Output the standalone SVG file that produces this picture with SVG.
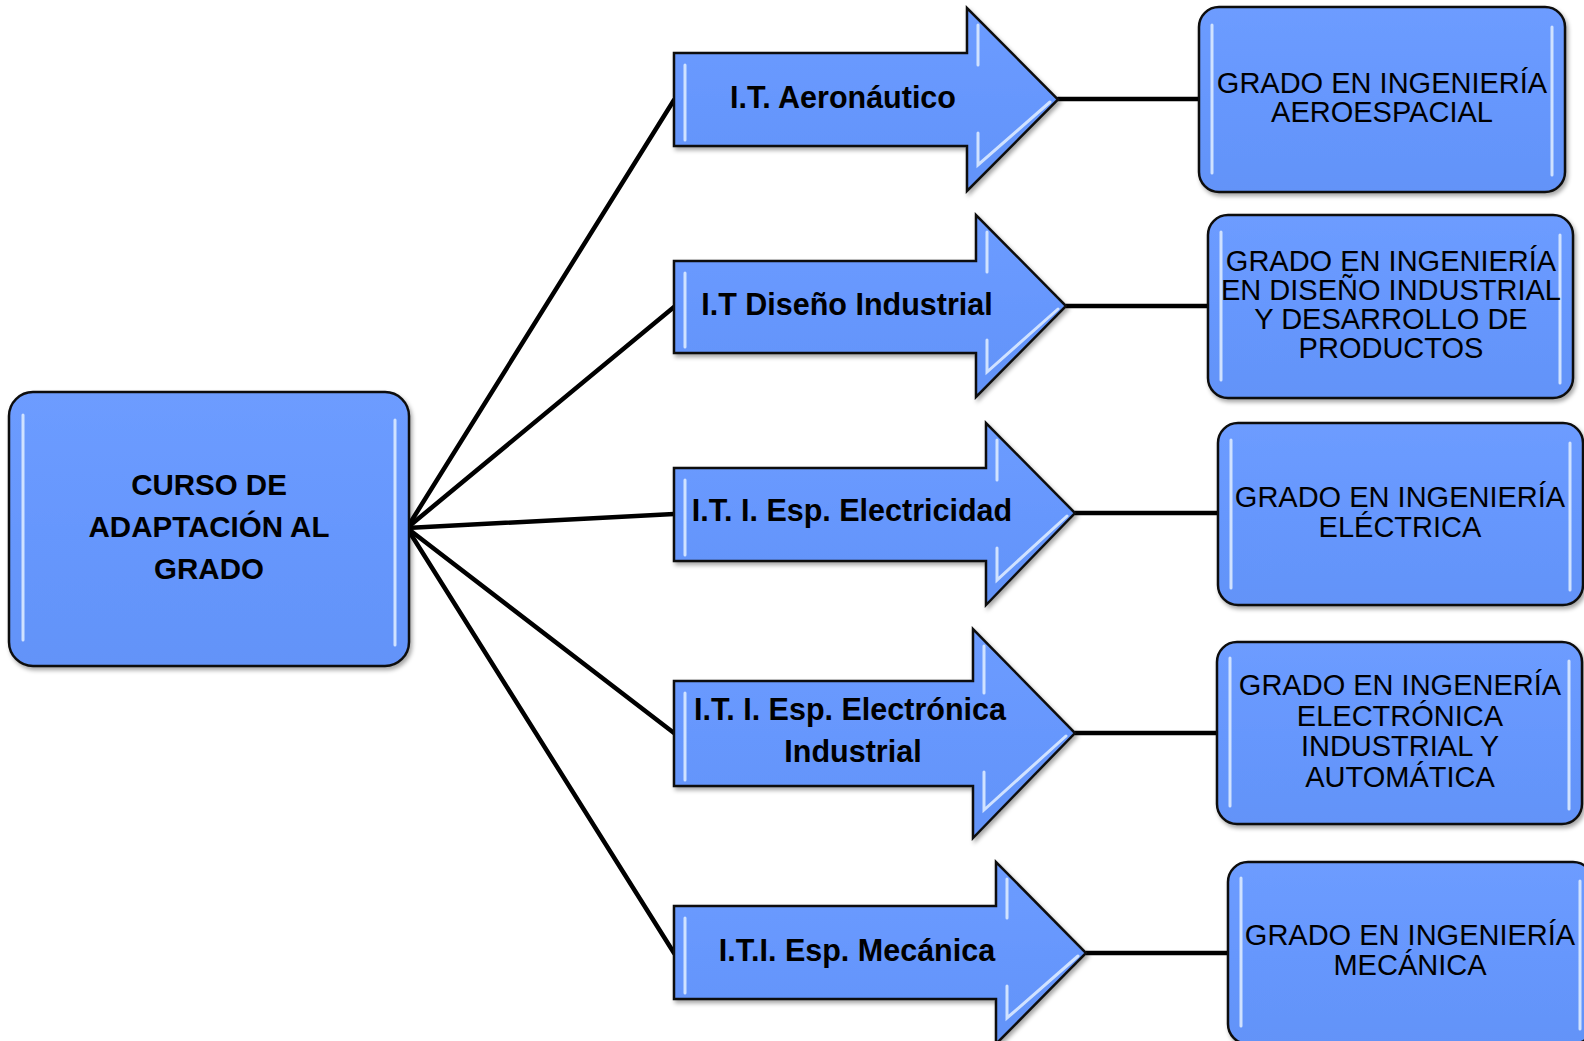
<svg xmlns="http://www.w3.org/2000/svg" width="1584" height="1041" viewBox="0 0 1584 1041">
<defs>
<linearGradient id="fillG" x1="0" y1="0" x2="0" y2="1">
<stop offset="0" stop-color="#6d9cff"/>
<stop offset="0.5" stop-color="#6697fd"/>
<stop offset="1" stop-color="#6393f8"/>
</linearGradient>
<filter id="sh" x="-5%" y="-5%" width="112%" height="115%">
<feDropShadow dx="2" dy="3" stdDeviation="2" flood-color="#000" flood-opacity="0.35"/>
</filter>
</defs>
<style>
.shape{fill:url(#fillG);stroke:#111;stroke-width:2.5;filter:url(#sh)}
.hl{stroke:#dceaff;stroke-width:3;stroke-linecap:round;fill:none;opacity:0.9}
.conn{stroke:#000;stroke-width:4.5;fill:none;stroke-linecap:round}
.tb{font-family:"Liberation Sans",Arial,sans-serif;font-weight:bold;font-size:29.5px;fill:#000;text-anchor:middle}
.ta{font-family:"Liberation Sans",Arial,sans-serif;font-weight:bold;font-size:30.5px;fill:#000;text-anchor:middle}
.tr{font-family:"Liberation Sans",Arial,sans-serif;font-size:29px;fill:#000;text-anchor:middle}
</style>
<rect width="1584" height="1041" fill="#fff"/>
<g id="connectors">
<line class="conn" x1="407" y1="528" x2="674" y2="100"/>
<line class="conn" x1="407" y1="528" x2="674" y2="307"/>
<line class="conn" x1="407" y1="528" x2="674" y2="514"/>
<line class="conn" x1="407" y1="528" x2="674" y2="733"/>
<line class="conn" x1="407" y1="528" x2="674" y2="953"/>
<line class="conn" x1="1058" y1="99" x2="1199" y2="99"/>
<line class="conn" x1="1066" y1="306" x2="1208" y2="306"/>
<line class="conn" x1="1075" y1="513" x2="1218" y2="513"/>
<line class="conn" x1="1075" y1="733" x2="1217" y2="733"/>
<line class="conn" x1="1086" y1="953" x2="1228" y2="953"/>
</g>
<g id="curso">
<rect class="shape" x="9" y="392" width="400" height="274" rx="24"/>
<path class="hl" d="M23 415V640M395 420V645"/>
<text class="tb" x="209" y="495">CURSO DE</text>
<text class="tb" x="209" y="537">ADAPTACIÓN AL</text>
<text class="tb" x="209" y="579">GRADO</text>
</g>
<g id="arrow1">
<path class="shape" d="M674 53H967V8L1058 99.5L967 191V146H674Z"/>
<path class="hl" d="M685 65V140M978 25V65M978 133V165L1050 102"/>
<text class="ta" x="843" y="108">I.T. Aeronáutico</text>
</g>
<g id="arrow2">
<path class="shape" d="M674 261H976V215L1066 306L976 397V353H674Z"/>
<path class="hl" d="M685 273V347M987 232V272M987 340V372L1058 309"/>
<text class="ta" x="847" y="315">I.T Diseño Industrial</text>
</g>
<g id="arrow3">
<path class="shape" d="M674 468H986V423L1075 513L986 605V561H674Z"/>
<path class="hl" d="M685 480V555M997 440V480M997 548V580L1067 516"/>
<text class="ta" x="852" y="521">I.T. I. Esp. Electricidad</text>
</g>
<g id="arrow4">
<path class="shape" d="M674 681H973V629L1075 733L973 838V786H674Z"/>
<path class="hl" d="M685 693V780M984 646V693M984 772V810L1066 736"/>
<text class="ta" x="850" y="720">I.T. I. Esp. Electrónica</text>
<text class="ta" x="853" y="762">Industrial</text>
</g>
<g id="arrow5">
<path class="shape" d="M674 906H996V862L1086 953L996 1044V999H674Z"/>
<path class="hl" d="M685 918V993M1007 879V918M1007 986V1018L1078 956"/>
<text class="ta" x="857" y="961">I.T.I. Esp. Mecánica</text>
</g>
<g id="grado1">
<rect class="shape" x="1199" y="7" width="366" height="185" rx="20"/>
<path class="hl" d="M1212 25V173M1552 27V175"/>
<text class="tr" x="1382" y="93">GRADO EN INGENIERÍA<tspan x="1382" dy="29">AEROESPACIAL</tspan></text>
</g>
<g id="grado2">
<rect class="shape" x="1208" y="215" width="365" height="183" rx="20"/>
<path class="hl" d="M1221 232V380M1560 235V383"/>
<text class="tr" x="1391" y="271">GRADO EN INGENIERÍA<tspan x="1391" dy="29">EN DISEÑO INDUSTRIAL</tspan><tspan x="1391" dy="29">Y DESARROLLO DE</tspan><tspan x="1391" dy="29">PRODUCTOS</tspan></text>
</g>
<g id="grado3">
<rect class="shape" x="1218" y="423" width="365" height="182" rx="20"/>
<path class="hl" d="M1231 440V588M1570 443V590"/>
<text class="tr" x="1400" y="507">GRADO EN INGENIERÍA<tspan x="1400" dy="30">ELÉCTRICA</tspan></text>
</g>
<g id="grado4">
<rect class="shape" x="1217" y="642" width="365" height="182" rx="20"/>
<path class="hl" d="M1230 658V806M1569 661V809"/>
<text class="tr" x="1400" y="695">GRADO EN INGENERÍA<tspan x="1400" dy="30.5">ELECTRÓNICA</tspan><tspan x="1400" dy="30.5">INDUSTRIAL Y</tspan><tspan x="1400" dy="30.5">AUTOMÁTICA</tspan></text>
</g>
<g id="grado5">
<rect class="shape" x="1228" y="862" width="365" height="182" rx="20"/>
<path class="hl" d="M1241 878V1026M1580 881V1029"/>
<text class="tr" x="1410" y="945">GRADO EN INGENIERÍA<tspan x="1410" dy="30">MECÁNICA</tspan></text>
</g>
</svg>
